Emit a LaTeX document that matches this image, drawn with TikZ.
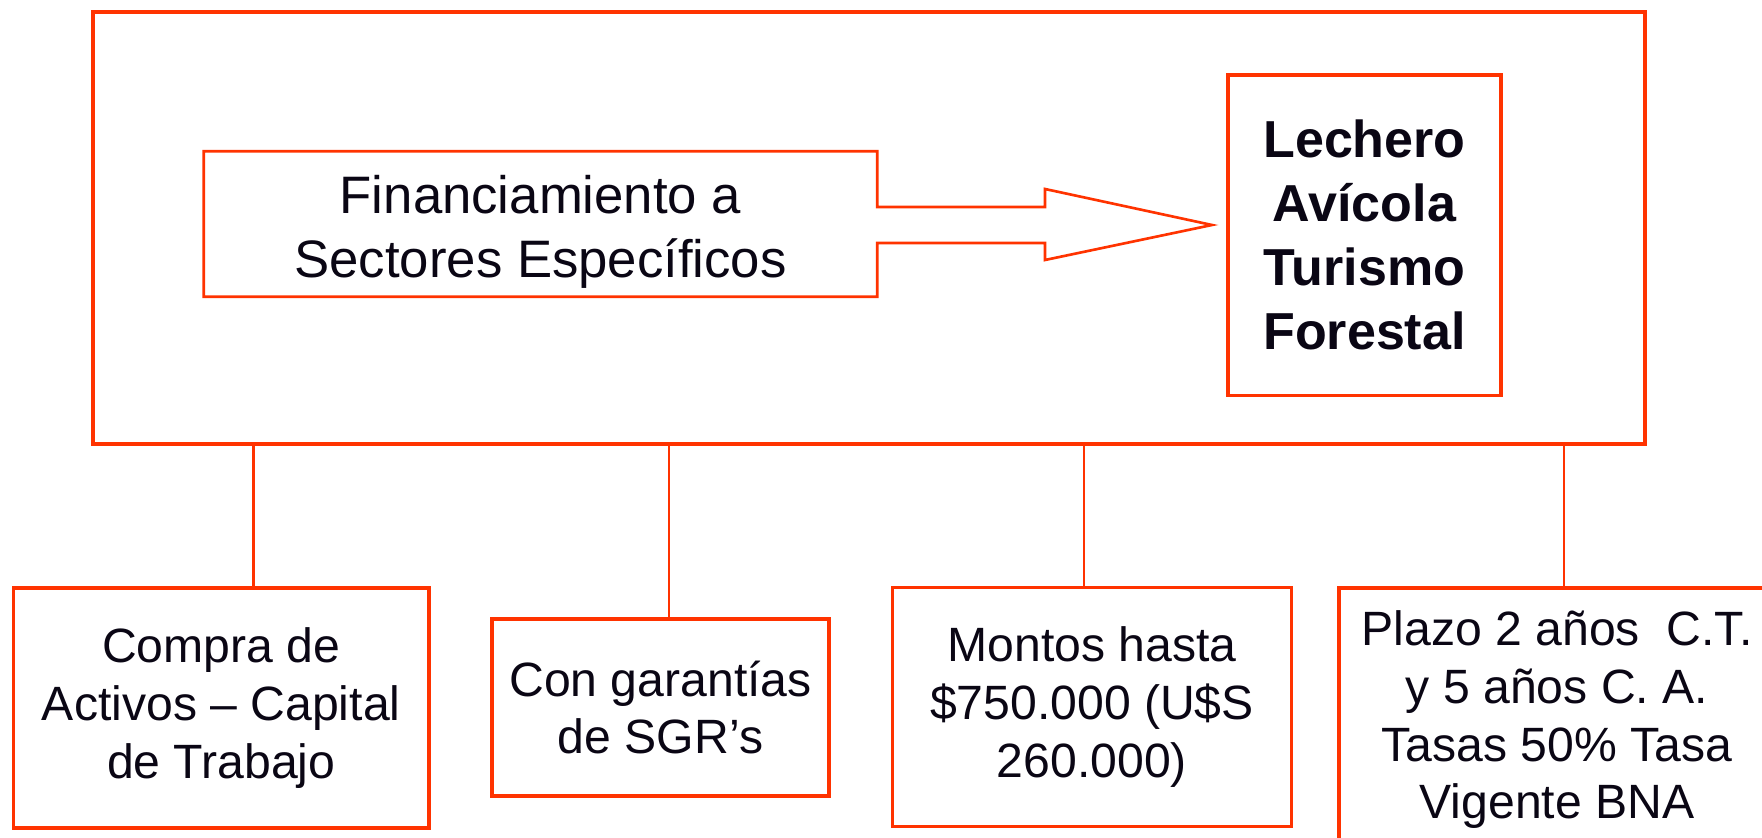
\documentclass[tikz,border=0pt]{standalone}
\usepackage{fontspec}
\setmainfont{Liberation Sans}
\usepackage{tikz}
\definecolor{rojo}{HTML}{FF3300}
\definecolor{tinta}{HTML}{0A0614}

\begin{document}
\begin{tikzpicture}
\tikzstyle{every node}+=[inner sep=0pt, text=tinta, align=center]
\tikzstyle{caja}=[draw=rojo, line width=1pt, rectangle]
\tikzstyle{linea}=[draw=rojo, line width=0.75pt]
\tikzstyle{grande}=[font=\fontsize{15}{18.2}\selectfont]
\tikzstyle{negrita}=[font=\fontsize{14.8}{18.2}\selectfont\bfseries]
\tikzstyle{chica}=[font=\fontsize{13.7}{16.4}\selectfont]
\useasboundingbox (0,0) rectangle (17.62,-8.38);
\clip (0,0) rectangle (17.62,-8.38);
\node [caja, minimum width=15.52cm, minimum height=4.32cm] (marco) at (8.69,-2.28) {};
\node [minimum width=6.72cm, minimum height=1.44cm] (fin) at (5.405,-2.24) {};
\node [grande] (fintxt) at ([yshift=-0.8mm]fin.center) {Financiamiento a\\Sectores Específicos};
\coordinate (punta) at (12.12,-2.25);
\draw [linea, line join=miter] (fin.south east) -- (fin.south west) -- (fin.north west) -- (fin.north east)
  -- (fin.east |- 0,-2.07) -- (10.45,-2.07) -- (10.45,-1.89) -- (punta) -- (10.45,-2.60)
  -- (10.45,-2.43) -- (fin.east |- 0,-2.43) -- cycle;
\node [caja, negrita, minimum width=2.73cm, minimum height=3.205cm] (sect) at (13.645,-2.3525) {Lechero\\Avícola\\Turismo\\Forestal};
\node [caja, chica, minimum width=4.155cm, minimum height=2.40cm] (b1) at (2.2125,-7.08) {Compra de\\Activos – Capital\\de Trabajo};
\node [caja, chica, minimum width=3.37cm, minimum height=1.77cm] (b2) at (6.605,-7.075) {Con garantías\\de SGR’s};
\node [caja, chica, minimum width=3.99cm, minimum height=2.39cm] (b3) at (10.92,-7.07) {Montos hasta\\\$750.000 (U\$S\\260.000)};
\node [caja, chica, minimum width=4.36cm, minimum height=2.64cm] (b4) at (15.57,-7.20) {Plazo 2 años~ C.T.\\y 5 años C. A.\\Tasas 50\% Tasa\\Vigente BNA};
\draw [linea] ([xshift=3.2mm]b1.north) -- ([xshift=3.2mm]b1.north |- marco.south);
\draw [linea] ([xshift=0.85mm]b2.north) -- ([xshift=0.85mm]b2.north |- marco.south);
\draw [linea] ([xshift=-0.8mm]b3.north) -- ([xshift=-0.8mm]b3.north |- marco.south);
\draw [linea] ([xshift=0.7mm]b4.north) -- ([xshift=0.7mm]b4.north |- marco.south);
\end{tikzpicture}
\end{document}
